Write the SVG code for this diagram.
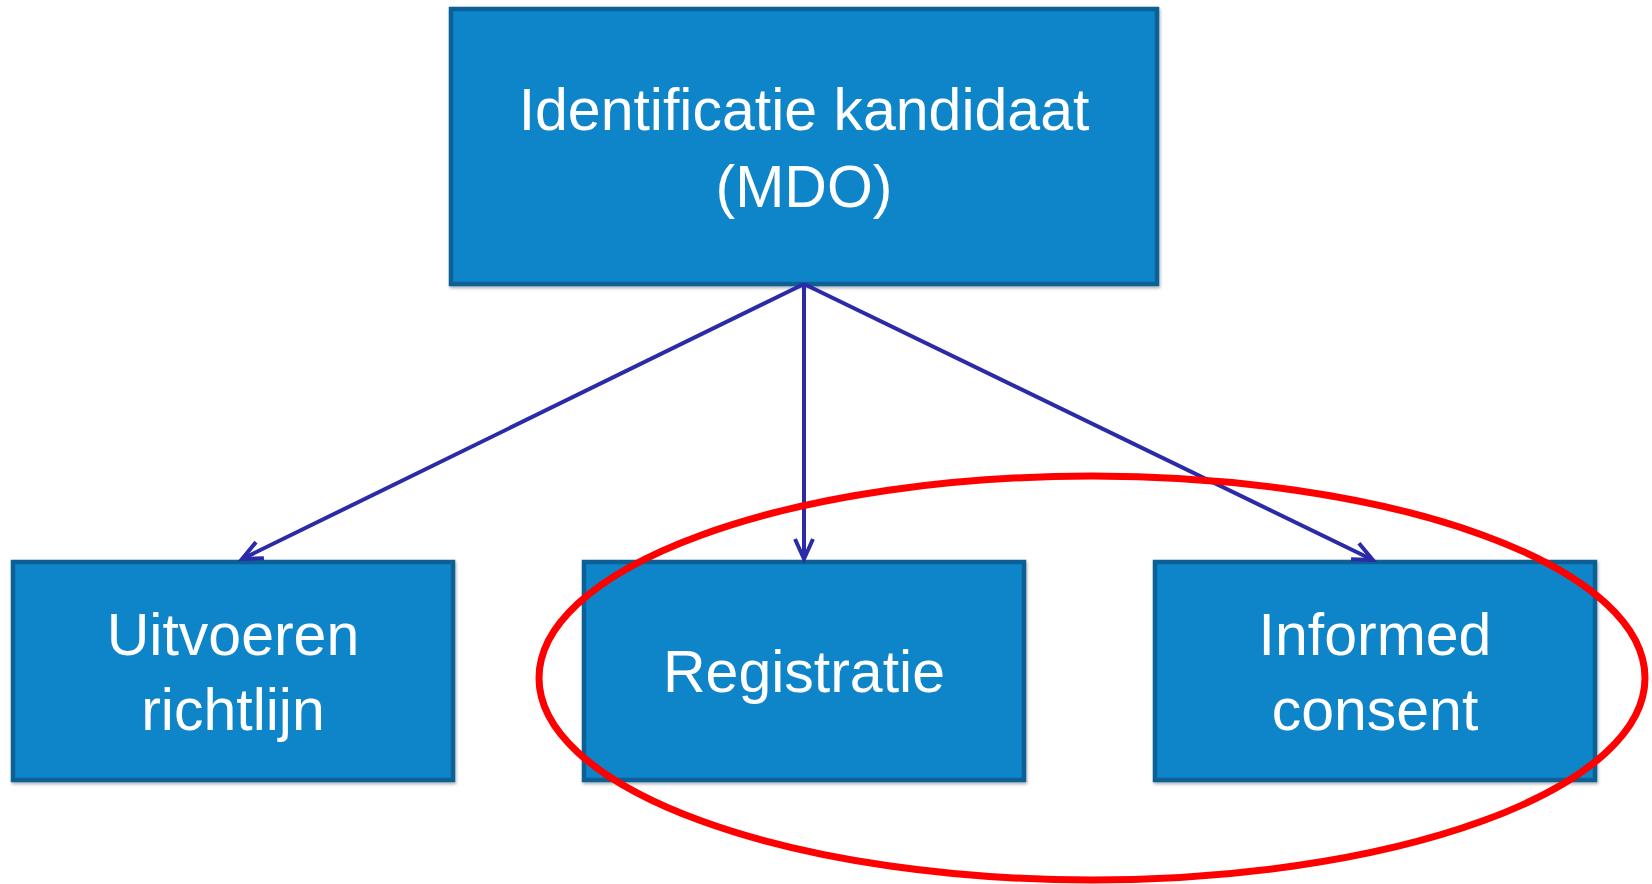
<svg xmlns="http://www.w3.org/2000/svg" width="1652" height="884" viewBox="0 0 1652 884">
<style>
.box{fill:#1185c8;stroke:#0c6196;stroke-width:4.5}
.lbl{font-family:"Liberation Sans",Arial,sans-serif;font-size:59px;fill:#ffffff;text-anchor:middle}
.conn{stroke:#2b2ba8;stroke-width:4;fill:none}
</style>
<defs>
<marker id="arr" markerUnits="userSpaceOnUse" markerWidth="34" markerHeight="34" refX="22" refY="11" orient="auto" viewBox="0 0 34 22">
<path d="M2,2 L22,11 L2,20" fill="none" stroke="#2b2ba8" stroke-width="4"/>
</marker>
<filter id="sh" x="-5%" y="-5%" width="110%" height="115%">
<feDropShadow dx="1" dy="2" stdDeviation="1.5" flood-color="#000" flood-opacity="0.3"/>
</filter>
</defs>
<rect width="1652" height="884" fill="#ffffff"/>
<g id="n-top" filter="url(#sh)">
<rect class="box" x="451" y="9" width="706" height="275"/>
<text class="lbl" x="804" y="130">Identificatie kandidaat</text>
<text class="lbl" x="804" y="207">(MDO)</text>
</g>
<g id="n-uitvoeren" filter="url(#sh)">
<rect class="box" x="13" y="562" width="440" height="218"/>
<text class="lbl" x="233" y="655">Uitvoeren</text>
<text class="lbl" x="233" y="730">richtlijn</text>
</g>
<g id="n-registratie" filter="url(#sh)">
<rect class="box" x="584" y="562" width="440" height="218"/>
<text class="lbl" x="804" y="692">Registratie</text>
</g>
<g id="n-informed" filter="url(#sh)">
<rect class="box" x="1155" y="562" width="440" height="218"/>
<text class="lbl" x="1375" y="655">Informed</text>
<text class="lbl" x="1375" y="730">consent</text>
</g>
<g id="connectors">
<line class="conn" x1="804" y1="284" x2="242" y2="559" marker-end="url(#arr)"/>
<line class="conn" x1="804" y1="284" x2="804" y2="559" marker-end="url(#arr)"/>
<line class="conn" x1="804" y1="284" x2="1373" y2="560" marker-end="url(#arr)"/>
</g>
<g id="highlight">
<ellipse cx="1092" cy="678" rx="553" ry="202" fill="none" stroke="#ff0000" stroke-width="7"/>
</g>
</svg>
